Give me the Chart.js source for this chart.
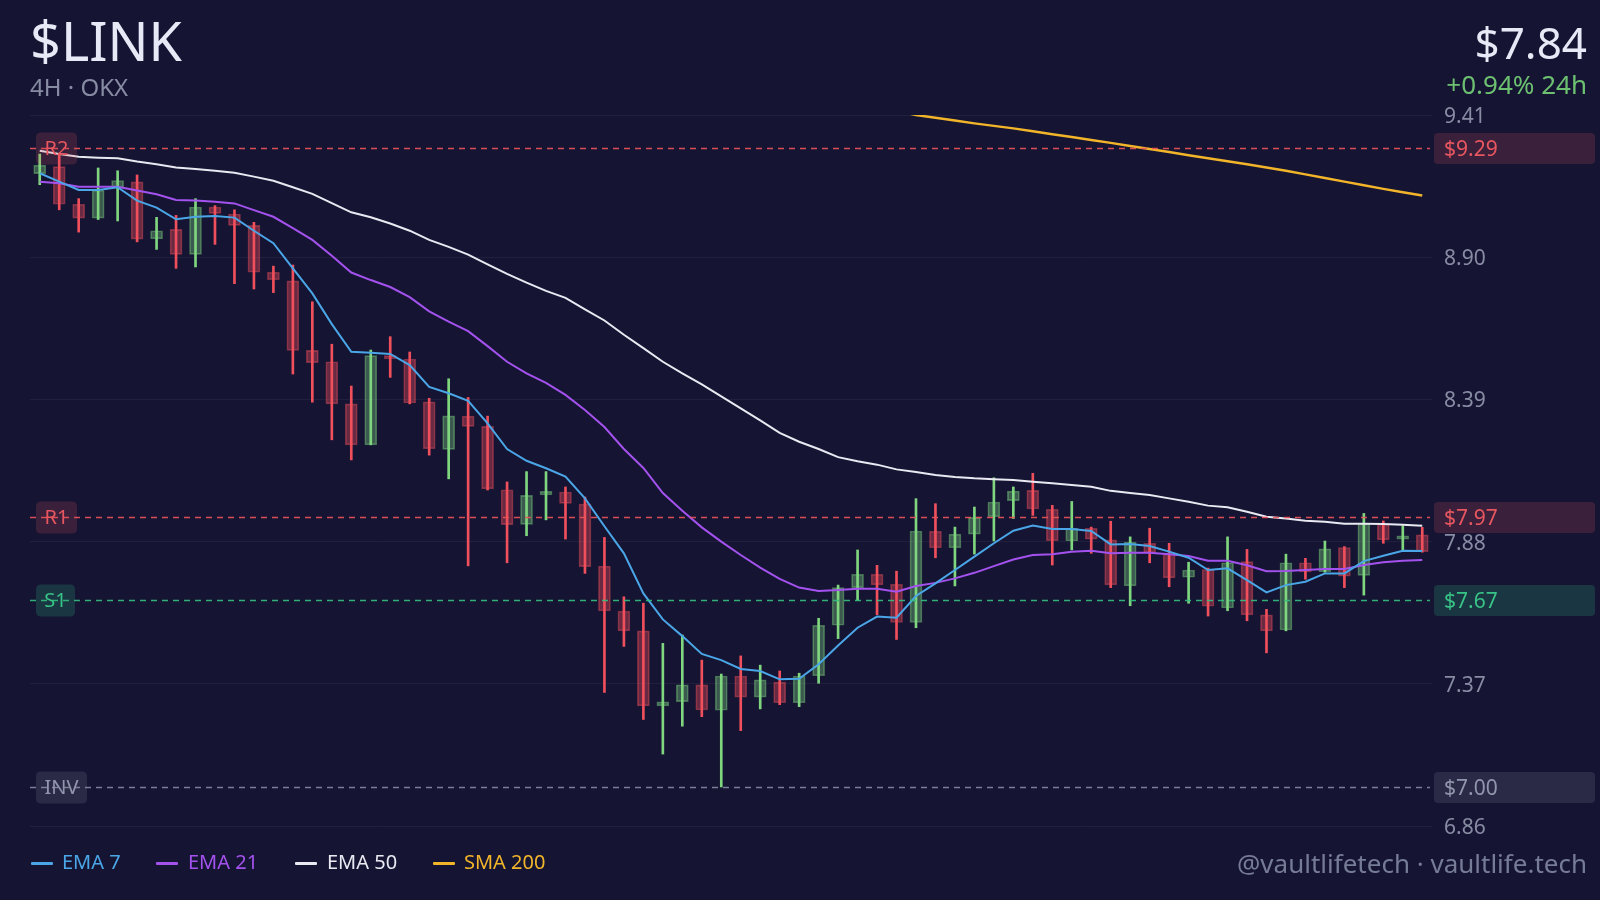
<!DOCTYPE html>
<html>
<head>
<meta charset="utf-8">
<script src="https://cdn.jsdelivr.net/npm/chart.js@4.4.1/dist/chart.umd.min.js"></script>
<style>
  html, body { margin: 0; padding: 0; background: #151433; }
  #wrap { position: relative; width: 1600px; height: 900px; overflow: hidden; background: #151433; font-family: 'Noto Sans', sans-serif; }
  #wrap canvas { position: absolute; left: 0; top: 0; }
  .t { position: absolute; white-space: nowrap; line-height: 1; }
  .sw { position: absolute; height: 3px; width: 22px; border-radius: 1px; }
</style>
</head>
<body>
<div id="wrap">
  <canvas id="c" width="1600" height="900"></canvas>
  <div class="t" style="left:30px; top:13px; font-size:54px; color:#e7eaf6;">$LINK</div>
  <div class="t" style="left:30px; top:75px; font-size:24px; color:#878ca3;">4H · OKX</div>
  <div class="t" style="right:13px; top:20px; font-size:44px; color:#e7eaf6;">$7.84</div>
  <div class="t" style="right:13px; top:71px; font-size:26px; color:#6cc070;">+0.94% 24h</div>

  <div class="sw" style="left:31px; top:862px; background:#4aa6e6;"></div>
  <div class="t" style="left:62px; top:852px; font-size:20px; color:#4aa6e6;">EMA 7</div>
  <div class="sw" style="left:156px; top:862px; background:#a452ee;"></div>
  <div class="t" style="left:188px; top:852px; font-size:20px; color:#a452ee;">EMA 21</div>
  <div class="sw" style="left:295px; top:862px; background:#e9e9f2;"></div>
  <div class="t" style="left:327px; top:852px; font-size:20px; color:#e9e9f2;">EMA 50</div>
  <div class="sw" style="left:433px; top:862px; background:#f2b52a;"></div>
  <div class="t" style="left:464px; top:852px; font-size:20px; color:#f2b52a;">SMA 200</div>

  <div class="t" style="right:13px; top:850px; font-size:26px; color:#767b96;">@vaultlifetech · vaultlife.tech</div>
</div>
<script>
// ---------- DATA ----------
const opens  = [9.200,9.225,9.090,9.040,9.150,9.170,8.966,9.000,8.910,9.080,9.055,9.014,8.846,8.815,8.566,8.525,8.374,8.227,8.547,8.535,8.381,8.211,8.330,8.293,8.066,7.942,8.047,8.058,8.015,7.792,7.631,7.560,7.291,7.306,7.366,7.275,7.398,7.322,7.376,7.302,7.399,7.580,7.715,7.763,7.727,7.590,7.917,7.858,7.907,7.969,8.027,8.064,7.996,7.882,7.928,7.886,7.721,7.874,7.838,7.752,7.780,7.642,7.808,7.617,7.563,7.804,7.772,7.859,7.759,7.943,7.889,7.904];
const highs  = [9.270,9.270,9.110,9.220,9.210,9.195,9.043,9.050,9.110,9.085,9.070,9.025,8.868,8.872,8.740,8.588,8.438,8.567,8.615,8.560,8.394,8.464,8.397,8.330,8.094,8.131,8.131,8.076,8.040,7.895,7.682,7.659,7.515,7.545,7.455,7.405,7.470,7.437,7.416,7.408,7.605,7.724,7.850,7.795,7.774,8.034,8.016,7.932,8.004,8.109,8.076,8.125,8.010,8.024,7.932,7.953,7.897,7.928,7.874,7.806,7.785,7.897,7.852,7.637,7.835,7.820,7.882,7.862,7.981,7.954,7.937,7.931];
const lows   = [9.160,9.070,8.990,9.035,9.030,8.955,8.928,8.860,8.865,8.946,8.805,8.786,8.773,8.481,8.380,8.245,8.173,8.227,8.469,8.374,8.190,8.105,7.793,8.065,7.804,7.901,7.958,7.889,7.766,7.339,7.504,7.242,7.118,7.218,7.252,7.000,7.202,7.280,7.295,7.288,7.372,7.532,7.670,7.618,7.529,7.571,7.822,7.721,7.835,7.882,7.963,7.974,7.796,7.850,7.838,7.715,7.650,7.804,7.718,7.659,7.613,7.632,7.596,7.481,7.560,7.745,7.770,7.715,7.688,7.874,7.847,7.842];
const closes = [9.230,9.090,9.040,9.140,9.175,8.965,8.995,8.910,9.080,9.057,9.014,8.846,8.819,8.566,8.522,8.374,8.227,8.547,8.535,8.377,8.213,8.331,8.293,8.069,7.941,8.046,8.060,8.017,7.790,7.631,7.560,7.291,7.305,7.366,7.276,7.398,7.322,7.384,7.302,7.398,7.580,7.715,7.763,7.725,7.590,7.918,7.858,7.907,7.967,8.022,8.061,7.997,7.883,7.928,7.889,7.725,7.878,7.840,7.750,7.778,7.648,7.804,7.617,7.560,7.804,7.771,7.854,7.756,7.945,7.886,7.901,7.844];

const ema7   = [9.201,9.171,9.141,9.141,9.151,9.103,9.078,9.036,9.045,9.048,9.042,8.995,8.950,8.860,8.770,8.660,8.561,8.557,8.553,8.513,8.435,8.412,8.385,8.304,8.212,8.170,8.143,8.113,8.035,7.935,7.838,7.694,7.601,7.541,7.477,7.455,7.423,7.416,7.386,7.388,7.440,7.507,7.571,7.611,7.607,7.685,7.730,7.778,7.826,7.874,7.919,7.938,7.925,7.925,7.918,7.870,7.871,7.864,7.844,7.822,7.778,7.784,7.742,7.698,7.724,7.736,7.766,7.766,7.810,7.829,7.847,7.846];
const ema21  = [9.171,9.165,9.153,9.153,9.153,9.139,9.126,9.105,9.103,9.099,9.093,9.069,9.045,9.004,8.962,8.905,8.845,8.818,8.793,8.757,8.706,8.669,8.635,8.581,8.525,8.483,8.449,8.406,8.352,8.291,8.212,8.144,8.054,7.991,7.931,7.880,7.832,7.787,7.746,7.715,7.703,7.706,7.711,7.711,7.700,7.721,7.732,7.748,7.768,7.792,7.816,7.832,7.835,7.844,7.847,7.838,7.840,7.840,7.835,7.828,7.811,7.811,7.795,7.774,7.775,7.778,7.782,7.782,7.796,7.806,7.811,7.814];
const ema50  = [9.282,9.270,9.260,9.257,9.255,9.243,9.233,9.222,9.216,9.210,9.203,9.189,9.174,9.151,9.127,9.094,9.061,9.043,9.021,8.995,8.962,8.937,8.909,8.874,8.840,8.809,8.779,8.754,8.713,8.673,8.622,8.574,8.525,8.483,8.444,8.401,8.358,8.315,8.270,8.238,8.212,8.183,8.168,8.156,8.139,8.130,8.119,8.112,8.107,8.104,8.101,8.095,8.089,8.083,8.077,8.062,8.054,8.047,8.035,8.023,8.009,8.003,7.987,7.969,7.963,7.955,7.951,7.944,7.944,7.943,7.940,7.937];
const sma200 = [null,null,null,null,null,null,null,null,null,null,null,null,null,null,null,null,null,null,null,null,null,null,null,null,null,null,null,null,null,null,null,null,null,null,null,null,null,null,null,null,null,null,null,null,9.425,9.410,9.400,9.390,9.380,9.371,9.362,9.352,9.341,9.331,9.320,9.310,9.299,9.288,9.277,9.266,9.255,9.244,9.233,9.222,9.210,9.197,9.184,9.171,9.158,9.145,9.133,9.121];

const yTicks = [6.86, 7.37, 7.88, 8.39, 8.90, 9.41];
const levelValues = [9.29, 7.97, 7.67, 7.00];
const levelNames  = ['R2', 'R1', 'S1', 'INV'];
const levelKinds  = ['res', 'res', 'sup', 'inv'];
const labels = opens.map((_, i) => 'C' + (i + 1));

// ---------- STYLE ----------
const UP = '#7fd67f', DOWN = '#f04f5c';
const UP_BODY = 'rgba(127,214,127,0.36)', DOWN_BODY = 'rgba(240,79,92,0.38)';
const UP_EDGE = 'rgba(127,214,127,0.45)', DOWN_EDGE = 'rgba(240,79,92,0.45)';
const LEVEL_STYLE = {
  res: { line: 'rgba(236,84,90,0.9)', text: '#e8575f', box: 'rgba(224,85,95,0.19)' },
  sup: { line: 'rgba(52,192,129,0.9)', text: '#38c486', box: 'rgba(52,192,129,0.2)' },
  inv: { line: 'rgba(141,145,168,0.85)', text: '#9296ad', box: 'rgba(141,145,168,0.18)' }
};
const FONT = "'Noto Sans', sans-serif";
const isUp = i => closes[i] >= opens[i];

function rr(ctx, x, y, w, h, r) {
  ctx.beginPath();
  ctx.moveTo(x + r, y);
  ctx.lineTo(x + w - r, y); ctx.quadraticCurveTo(x + w, y, x + w, y + r);
  ctx.lineTo(x + w, y + h - r); ctx.quadraticCurveTo(x + w, y + h, x + w - r, y + h);
  ctx.lineTo(x + r, y + h); ctx.quadraticCurveTo(x, y + h, x, y + h - r);
  ctx.lineTo(x, y + r); ctx.quadraticCurveTo(x, y, x + r, y);
  ctx.closePath();
}

const levelPlugin = {
  id: 'levels',
  afterDatasetsDraw(chart) {
    const { ctx, chartArea: a, scales: { y } } = chart;
    levelValues.forEach((v, k) => {
      const st = LEVEL_STYLE[levelKinds[k]];
      const py = Math.round(y.getPixelForValue(v)) + 0.5;
      ctx.save();
      ctx.font = '20px ' + FONT;
      const name = levelNames[k];
      const tw = ctx.measureText(name).width;
      const bw = Math.round(tw + 17), bh = 32, bx = 36;
      ctx.fillStyle = st.box;
      rr(ctx, bx, py - bh / 2, bw, bh, 5); ctx.fill();
      ctx.strokeStyle = st.line; ctx.lineWidth = 1.5; ctx.setLineDash([6, 5]);
      ctx.beginPath(); ctx.moveTo(a.left, py); ctx.lineTo(a.right - 2, py); ctx.stroke();
      ctx.setLineDash([]);
      ctx.fillStyle = st.text; ctx.textAlign = 'center'; ctx.textBaseline = 'middle';
      ctx.fillText(name, bx + bw / 2, py + 1);
      ctx.fillStyle = st.box;
      rr(ctx, a.right + 2, py - 15.5, 161, 31, 4); ctx.fill();
      ctx.font = '21px ' + FONT;
      ctx.fillStyle = st.text; ctx.textAlign = 'left';
      ctx.fillText('$' + v.toFixed(2), a.right + 12, py + 1.5);
      ctx.restore();
    });
  }
};

Chart.defaults.font.family = FONT;

new Chart(document.getElementById('c'), {
  type: 'bar',
  data: {
    labels,
    datasets: [
      { type: 'line', label: 'EMA 7', data: ema7, borderColor: '#4aa6e6', borderWidth: 2, pointRadius: 0, tension: 0, order: 0 },
      { type: 'line', label: 'EMA 21', data: ema21, borderColor: '#a452ee', borderWidth: 2, pointRadius: 0, tension: 0, order: 0 },
      { type: 'line', label: 'EMA 50', data: ema50, borderColor: '#e9e9f2', borderWidth: 2, pointRadius: 0, tension: 0, order: 0 },
      { type: 'line', label: 'SMA 200', data: sma200, borderColor: '#f2b52a', borderWidth: 2.5, pointRadius: 0, tension: 0, spanGaps: false, order: 0 },
      { type: 'bar', label: 'wick', data: lows.map((l, i) => [l, highs[i]]),
        backgroundColor: c => isUp(c.dataIndex) ? UP : DOWN, barThickness: 2, grouped: false, order: 1 },
      { type: 'bar', label: 'body', data: opens.map((o, i) => [Math.min(o, closes[i]), Math.max(o, closes[i])]),
        backgroundColor: c => isUp(c.dataIndex) ? UP_BODY : DOWN_BODY,
        borderColor: c => isUp(c.dataIndex) ? UP_EDGE : DOWN_EDGE,
        borderWidth: 1, borderSkipped: false, barThickness: 12, grouped: false, order: 2 }
    ]
  },
  options: {
    responsive: false,
    animation: false,
    devicePixelRatio: 1,
    layout: { padding: { left: 30, top: 115, bottom: 74, right: 0 } },
    plugins: { legend: { display: false }, tooltip: { enabled: false } },
    scales: {
      x: { type: 'category', display: false, offset: true, grid: { display: false } },
      y: {
        type: 'linear', position: 'right', min: 6.86, max: 9.41,
        afterBuildTicks: s => { s.ticks = yTicks.map(v => ({ value: v })); },
        afterFit: s => { s.width = 168; },
        ticks: { callback: v => Number(v).toFixed(2), color: '#878ca3', font: { size: 21, family: FONT }, padding: 12, labelOffset: 2 },
        grid: { color: 'rgba(255,255,255,0.05)', lineWidth: 1, drawTicks: false },
        border: { display: false }
      }
    }
  },
  plugins: [levelPlugin]
});
</script>
</body>
</html>
